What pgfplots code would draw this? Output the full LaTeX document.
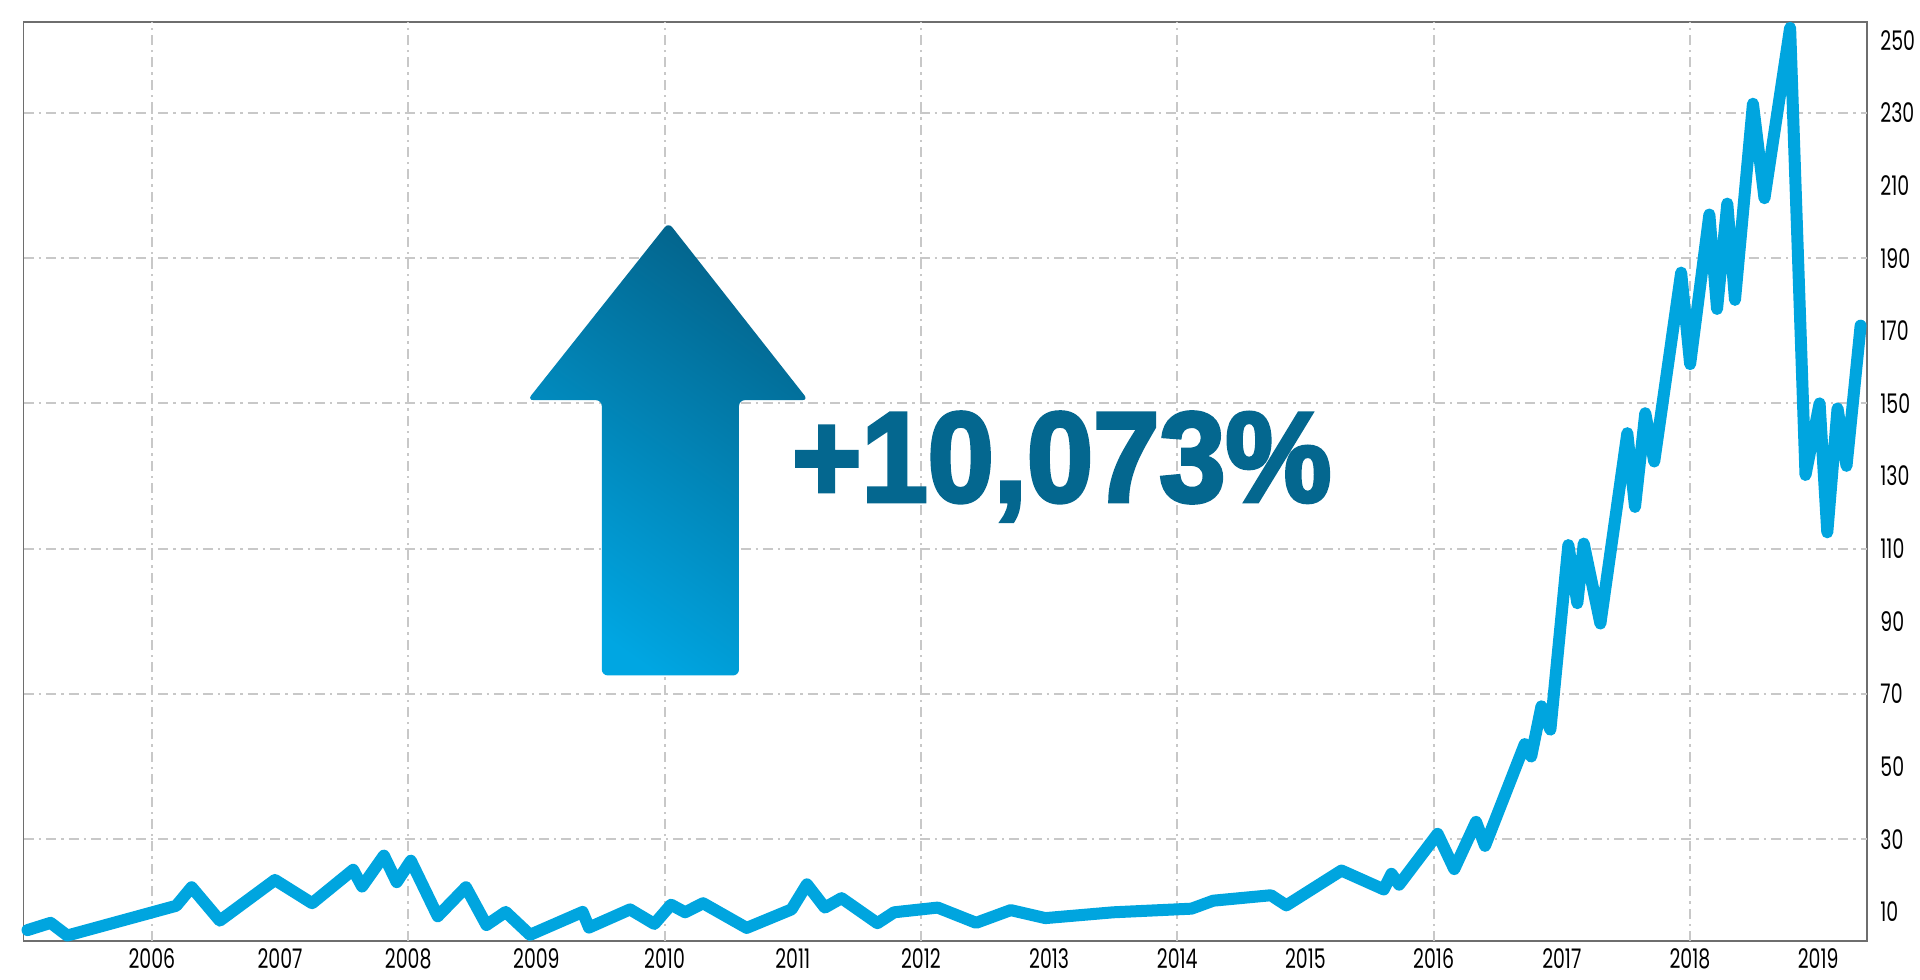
\documentclass[border=0pt]{standalone}
\usepackage{pgfplots}
\pgfplotsset{compat=1.18}
\usepackage{fontspec}
\setmainfont{Poppins}[FakeStretch=0.7]
\newfontfamily\bigfont{Liberation Sans}[FakeStretch=0.93, BoldFeatures={FakeBold=3}]
\definecolor{linec}{RGB}{0,165,223}
\definecolor{textc}{RGB}{4,103,143}
\definecolor{arrowdark}{RGB}{3,100,140}
\definecolor{arrowlight}{RGB}{0,166,226}
\definecolor{gridc}{RGB}{200,200,200}
\definecolor{axisc}{RGB}{110,110,110}
\begin{document}
\begin{tikzpicture}
\useasboundingbox (-11.85pt,-19pt) rectangle (948.15pt,470.5pt);
\begin{axis}[
  scale only axis, width=921.65pt, height=459.5pt,
  xmin=2005.0, xmax=2019.38, ymin=2, ymax=255,
  xtick={2006,...,2019}, ytick={10,30,...,250},
  /pgf/number format/1000 sep={},
  /pgf/number format/assume math mode=true,
  yticklabel pos=right,
  major tick length=0pt,
  tick label style={font=\fontsize{13.5}{13.5}\selectfont},
  xticklabel style={inner sep=0pt, anchor=north, yshift=-3.5pt},
  yticklabel style={inner sep=0pt, anchor=west, xshift=6.5pt},
  axis line style={draw=axisc, line width=0.75pt},
  extra x ticks={2006,2008,...,2018}, extra x tick labels={},
  extra x tick style={grid=major, major tick length=0pt},
  extra y ticks={30,70,...,230}, extra y tick labels={},
  extra y tick style={grid=major, major tick length=0pt},
  major grid style={draw=gridc, line width=1pt, dash pattern=on 5pt off 2.5pt on 1.2pt off 2.5pt},
  clip=false,
]
\shade[top color=arrowdark, bottom color=arrowlight, shading angle=-35, rounded corners=3pt]
  (axis cs:2009.51,75.1) -- (axis cs:2009.51,150.9) -- (axis cs:2008.93,150.9)
  -- (axis cs:2010.03,199.8) -- (axis cs:2011.12,150.9) -- (axis cs:2010.58,150.9)
  -- (axis cs:2010.58,75.1) -- cycle;
\node[anchor=base west, text=textc, inner sep=0pt] at (axis cs:2010.99,123)
  {\bigfont\bfseries\fontsize{64}{64}\selectfont +10,073\%};
\addplot[color=linec, line width=6pt, line join=round, line cap=round] coordinates {
(2005.03,5.0) (2005.21,7.0) (2005.34,3.5) (2006.19,11.7) (2006.31,16.8)
(2006.53,7.6) (2006.96,18.8) (2007.25,12.4) (2007.57,21.6) (2007.64,17.0)
(2007.81,25.5) (2007.91,18.2) (2008.02,24.1) (2008.23,8.8) (2008.45,16.8)
(2008.61,6.4) (2008.76,10.0) (2008.95,3.7) (2009.36,10.0) (2009.41,5.7)
(2009.73,10.7) (2009.92,6.7) (2010.05,12.0) (2010.16,9.9) (2010.30,12.4)
(2010.64,5.6) (2010.99,10.7) (2011.11,17.6) (2011.25,11.2) (2011.38,13.8)
(2011.66,6.9) (2011.79,9.9) (2012.13,11.2) (2012.43,7.0) (2012.70,10.5)
(2012.97,8.3) (2013.50,9.9) (2014.11,10.9) (2014.28,13.1) (2014.73,14.6)
(2014.85,11.8) (2015.28,21.4) (2015.61,16.2) (2015.67,20.5) (2015.73,17.5)
(2016.03,31.5) (2016.16,21.8) (2016.33,34.8) (2016.40,28.2) (2016.71,56.2)
(2016.76,52.8) (2016.84,66.6) (2016.91,60.2) (2017.05,111.0) (2017.12,95.0)
(2017.17,111.4) (2017.30,89.4) (2017.51,141.8) (2017.57,121.5) (2017.65,147.3)
(2017.72,134.0) (2017.93,186.0) (2018.00,160.8) (2018.15,202.0) (2018.21,176.0)
(2018.29,205.0) (2018.35,178.5) (2018.49,232.5) (2018.58,206.5) (2018.78,253.4)
(2018.90,130.3) (2019.01,150.0) (2019.07,114.5) (2019.15,148.6) (2019.22,132.8)
(2019.33,171.4)
};
\end{axis}
\end{tikzpicture}
\end{document}
